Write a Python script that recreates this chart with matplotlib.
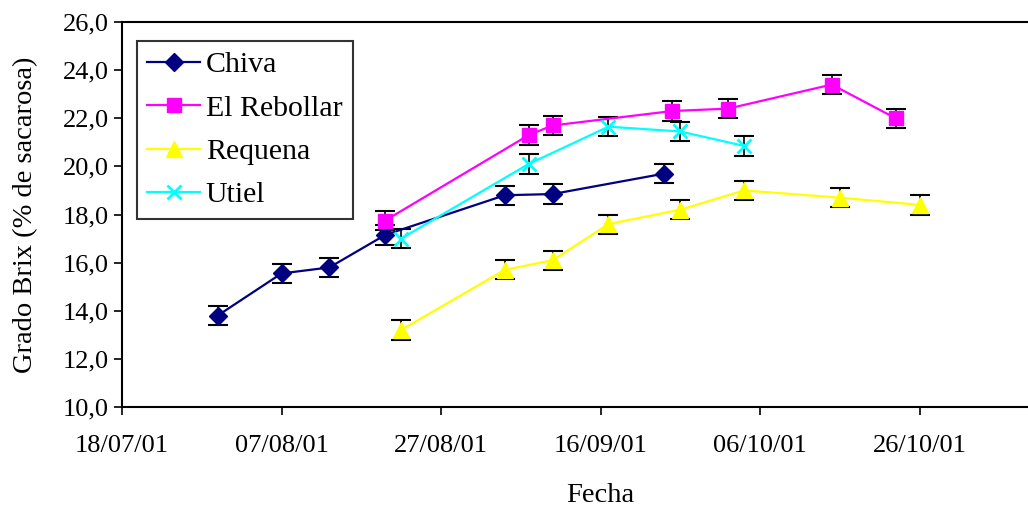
import datetime as dt
import matplotlib
matplotlib.use("Agg")
import matplotlib.pyplot as plt
import matplotlib.dates as mdates
from matplotlib.ticker import FuncFormatter

plt.rcParams['font.family'] = ['Liberation Serif', 'DejaVu Serif']

def d(s):
    return dt.datetime.strptime(s, "%d/%m/%y")

# sampling dates and Brix values per site
chiva_dates = ["30/07/01", "07/08/01", "13/08/01", "20/08/01", "04/09/01", "10/09/01", "24/09/01"]
chiva_brix = [13.8, 15.55, 15.8, 17.15, 18.8, 18.85, 19.7]

rebollar_dates = ["20/08/01", "07/09/01", "10/09/01", "25/09/01", "02/10/01", "15/10/01", "23/10/01"]
rebollar_brix = [17.75, 21.3, 21.7, 22.3, 22.4, 23.4, 22.0]

requena_dates = ["22/08/01", "04/09/01", "10/09/01", "17/09/01", "26/09/01", "04/10/01", "16/10/01", "26/10/01"]
requena_brix = [13.2, 15.7, 16.1, 17.6, 18.2, 19.0, 18.7, 18.4]

utiel_dates = ["22/08/01", "07/09/01", "17/09/01", "26/09/01", "04/10/01"]
utiel_brix = [17.0, 20.1, 21.65, 21.45, 20.85]

err = 0.4

x_ticks = ["18/07/01", "07/08/01", "27/08/01", "16/09/01", "06/10/01", "26/10/01"]

fig = plt.figure(figsize=(10.28, 5.09), dpi=100)
# axes run past the right edge of the picture, as in the original
ax = fig.add_axes([122 / 1028, 1 - 407 / 509, (1079 - 122) / 1028, (407 - 22) / 509])

series = [
    ("Chiva", chiva_dates, chiva_brix, "#000080", "D", 9),
    ("El Rebollar", rebollar_dates, rebollar_brix, "#FF00FF", "s", 10.5),
    ("Requena", requena_dates, requena_brix, "#FFFF00", "^", 11),
    ("Utiel", utiel_dates, utiel_brix, "#00FFFF", "x", 10),
]

handles = []
for name, dates, vals, col, mk, ms in series:
    xs = [d(s) for s in dates]
    ax.errorbar(xs, vals, yerr=err, fmt="none", ecolor="black", elinewidth=1.2,
                capsize=7, capthick=1.5, zorder=2)
    ln, = ax.plot(xs, vals, color=col, marker=mk, markersize=ms, linewidth=1.6,
                  markeredgewidth=2 if mk == "x" else 1, markeredgecolor=col,
                  label=name, zorder=3)
    handles.append(ln)

ax.set_xlim(d("18/07/01"), d("18/07/01") + dt.timedelta(days=120))
ax.set_ylim(10, 26)
ax.set_xticks([d(s) for s in x_ticks])
ax.xaxis.set_major_formatter(mdates.DateFormatter("%d/%m/%y"))
ax.set_yticks(range(10, 27, 2))
ax.yaxis.set_major_formatter(FuncFormatter(lambda v, p: f"{v:.1f}".replace(".", ",")))

ax.tick_params(axis="both", labelsize=19, width=1.2, length=6, direction="out")
ax.tick_params(axis="x", pad=14)
for sp in ax.spines.values():
    sp.set_linewidth(1.5)

ax.set_xlabel("Fecha", fontsize=20.5, labelpad=19)
ax.set_ylabel("Grado Brix (% de sacarosa)", fontsize=20.5, labelpad=18)

leg = ax.legend(handles=handles, loc="upper left", bbox_to_anchor=(137 / 1028, 1 - 41 / 509),
                bbox_transform=fig.transFigure, fontsize=21.5, frameon=True, fancybox=False,
                edgecolor="black", borderpad=0.35, handlelength=1.75, handletextpad=0.2,
                labelspacing=0.55, borderaxespad=0)
leg.get_frame().set_linewidth(1.5)

fig.savefig("out.png", dpi=100)
